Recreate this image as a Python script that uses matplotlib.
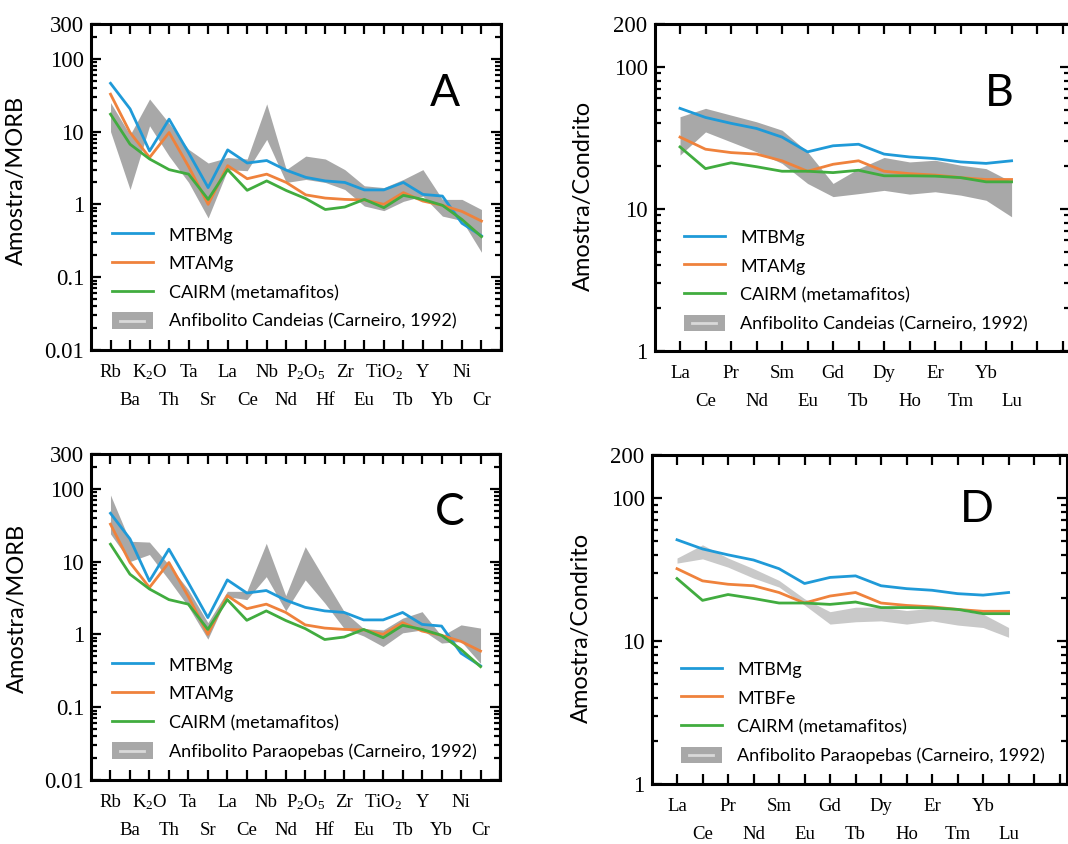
import numpy as np
import matplotlib.pyplot as plt
import matplotlib.transforms as mtransforms
from matplotlib.lines import Line2D
from matplotlib.patches import Patch, Rectangle
from matplotlib.legend_handler import HandlerBase
from matplotlib.ticker import LogLocator, NullFormatter

plt.rcParams['mathtext.fontset'] = 'custom'
plt.rcParams['mathtext.rm'] = 'Liberation Serif'
plt.rcParams['mathtext.it'] = 'Liberation Serif:italic'
plt.rcParams['mathtext.bf'] = 'Liberation Serif:bold'

SERIF = 'Liberation Serif'
SANS = 'Lato'

# spider diagram, normalised to MORB (panels A and C)
spider_elements = ["Rb", "Ba", "K$_2$O", "Th", "Ta", "Sr", "La", "Ce", "Nb", "Nd",
                   "P$_2$O$_5$", "Hf", "Zr", "Eu", "TiO$_2$", "Tb", "Y", "Yb", "Ni", "Cr"]
mtbmg_morb = [46, 20.5, 5.4, 14.8, 5.1, 1.7, 5.6, 3.7, 4.0, 2.95,
              2.35, 2.1, 2.0, 1.58, 1.58, 2.0, 1.37, 1.3, 0.55, 0.37]
mtamg_morb = [32.6, 9.7, 4.4, 9.7, 3.3, 1.0, 3.4, 2.25, 2.6, 2.0,
              1.35, 1.22, 1.17, 1.15, 1.0, 1.45, 1.11, 0.97, 0.8, 0.59]
cairm_morb = [17.3, 6.7, 4.2, 3.0, 2.6, 1.17, 3.0, 1.56, 2.1, 1.55,
              1.2, 0.85, 0.92, 1.17, 0.9, 1.33, 1.17, 0.97, 0.62, 0.36]

# Anfibolito Candeias band (A)
candeias_hi = [25, 9, 28, 13, 5.7, 3.7, 4.4, 4.2, 24, 3.0,
               4.6, 4.2, 3.0, 1.8, 1.7, 2.2, 3.0, 1.17, 1.17, 0.85]
candeias_lo = [10, 1.6, 12, 4.6, 2.0, 0.65, 3.0, 2.9, 7.8, 2.0,
               2.2, 2.0, 1.6, 0.95, 0.82, 1.1, 1.3, 0.69, 0.6, 0.22]

# Anfibolito Paraopebas band (C)
paraopebas_hi = [82, 19, 18.5, 9.0, 4.1, 1.45, 3.9, 3.9, 17.8, 3.4,
                 16, 5.7, 2.05, 1.2, 1.15, 1.67, 2.05, 0.95, 1.35, 1.22]
paraopebas_lo = [24, 10, 12.5, 5.6, 2.4, 0.86, 3.3, 3.0, 6.2, 2.1,
                 5.6, 2.7, 1.2, 0.95, 0.68, 1.05, 1.15, 0.76, 0.8, 0.40]

# REE, normalised to chondrite (panels B and D)
ree_elements = ["La", "Ce", "Pr", "Nd", "Sm", "Eu", "Gd", "Tb", "Dy", "Ho", "Er", "Tm", "Yb", "Lu"]
mtbmg_ree = [51, 44, 40, 36.8, 32, 25.2, 27.8, 28.5, 24.3, 23.2, 22.6, 21.4, 20.9, 21.8]
mtamg_ree = [32, 26.3, 24.9, 24.3, 21.8, 18.4, 20.6, 21.8, 18.4, 17.7, 17.3, 16.6, 16.1, 16.1]
cairm_ree = [27.3, 19.2, 21.1, 19.8, 18.4, 18.4, 18.0, 18.7, 17.1, 17.1, 17.0, 16.6, 15.5, 15.5]

candeias_ree_hi = [44.5, 51, 45.7, 41, 35.8, 25.2, 15.1, 19.2, 23, 21.4, 22, 20.3, 19.2, 15.5]
candeias_ree_lo = [23.9, 34.8, 29.6, 25.2, 20.9, 15.1, 12.2, 12.8, 13.5, 12.7, 13.2, 12.5, 11.5, 8.8]

paraopebas_ree_hi = [38, 47, 38, 32, 26.5, 19.7, 16.0, 17.2, 17.2, 16.3, 16.9, 16.3, 15.4, 12.4]
paraopebas_ree_lo = [35, 37.5, 32.8, 27.5, 23.8, 17.8, 13.1, 13.6, 13.8, 13.1, 13.8, 12.9, 12.4, 10.6]

blue, orange, green = '#1f9ad8', '#ef823c', '#41ac3f'
band_dark, band_light = '#a8a8a8', '#c9c9c9'

fig = plt.figure(figsize=(10.68, 8.44), dpi=100)
W, H = 1068, 844


class BandHandler(HandlerBase):
    # grey box with a pale stroke in the middle, like the original legend key
    def create_artists(self, legend, orig_handle, xdescent, ydescent, width, height,
                       fontsize, trans):
        rect = Rectangle((-xdescent, -ydescent), width, height, facecolor=band_dark,
                         edgecolor='none', transform=trans)
        y = -ydescent + height / 2
        line = Line2D([-xdescent + 0.2 * width, -xdescent + 0.78 * width], [y, y],
                      color='#d9d9d9', lw=2, transform=trans)
        return [rect, line]


def panel(px, names, xmax, ylim, yticks, lo, hi, band_color, series, labels,
          letter, letter_xy, ylabel, ylabel_xy, leg_xy):
    left, top, right, bottom = px
    ax = fig.add_axes([left / W, 1 - bottom / H, (right - left) / W, (bottom - top) / H])
    x = np.arange(len(names))
    ax.fill_between(x, lo, hi, color=band_color, lw=0)
    for vals, col in zip(series, [blue, orange, green]):
        ax.plot(x, vals, color=col, lw=2)

    ax.set_yscale('log')
    ax.set_ylim(*ylim)
    ax.set_xlim(-1, xmax)
    ax.set_yticks(yticks)
    ax.set_yticklabels([f"{t:g}" for t in yticks], fontfamily=SERIF, fontsize=16.5)
    ax.yaxis.set_minor_locator(LogLocator(base=10, subs=np.arange(2, 10)))
    ax.yaxis.set_minor_formatter(NullFormatter())
    ax.set_xticks(np.arange(0, int(xmax) + 1))
    ax.set_xticklabels([])
    ax.tick_params(which='both', direction='in', top=True, right=True, width=1.6, pad=5)
    ax.tick_params(which='major', length=7)
    ax.tick_params(which='minor', length=4)
    for s in ax.spines.values():
        s.set_linewidth(2.2)

    # element names in two staggered rows
    for i, name in enumerate(names):
        off = mtransforms.offset_copy(ax.get_xaxis_transform(), fig=fig,
                                      y=-27 if i % 2 == 0 else -55, units='dots')
        ax.text(i, 0, name, transform=off, ha='center', va='baseline',
                fontfamily=SERIF, fontsize=13.5)

    ax.set_ylabel(ylabel, fontfamily=SANS, fontsize=17)
    ax.yaxis.set_label_coords(*ylabel_xy)
    ax.text(*letter_xy, letter, transform=ax.transAxes, ha='center', va='center',
            fontfamily=SANS, fontsize=32)

    band_key = Patch()
    handles = [Line2D([], [], color=c, lw=2) for c in (blue, orange, green)] + [band_key]
    ax.legend(handles, labels, loc='upper left', bbox_to_anchor=leg_xy, frameon=False,
              prop={'family': SANS, 'size': 13}, handlelength=2.3, handletextpad=0.85,
              labelspacing=0.62, borderpad=0, borderaxespad=0, handleheight=1.05,
              handler_map={band_key: BandHandler()})
    return ax


spider_ticks = [0.01, 0.1, 1, 10, 100, 300]
ree_ticks = [1, 10, 100, 200]

panel((91, 24, 501, 350), spider_elements, 20, (0.01, 300), spider_ticks,
      candeias_lo, candeias_hi, band_dark, [mtbmg_morb, mtamg_morb, cairm_morb],
      ["MTBMg", "MTAMg", "CAIRM (metamafitos)", "Anfibolito Candeias (Carneiro, 1992)"],
      "A", (0.863, 0.788), "Amostra/MORB", (-0.156, 0.52), (0.051, 0.38))

panel((654.5, 24, 1070, 351), ree_elements, 15.29, (1, 200), ree_ticks,
      candeias_ree_lo, candeias_ree_hi, band_dark, [mtbmg_ree, mtamg_ree, cairm_ree],
      ["MTBMg", "MTAMg", "CAIRM (metamafitos)", "Anfibolito Candeias (Carneiro, 1992)"],
      "B", (0.831, 0.788), "Amostra/Condrito", (-0.146, 0.474), (0.07, 0.375))

panel((91, 454, 500, 780), spider_elements, 20, (0.01, 300), spider_ticks,
      paraopebas_lo, paraopebas_hi, band_dark, [mtbmg_morb, mtamg_morb, cairm_morb],
      ["MTBMg", "MTAMg", "CAIRM (metamafitos)", "Anfibolito Paraopebas (Carneiro, 1992)"],
      "C", (0.878, 0.822), "Amostra/MORB", (-0.154, 0.525), (0.051, 0.38))

panel((651.5, 455, 1067, 783.7), ree_elements, 15.29, (1, 200), ree_ticks,
      paraopebas_ree_lo, paraopebas_ree_hi, band_light, [mtbmg_ree, mtamg_ree, cairm_ree],
      ["MTBMg", "MTBFe", "CAIRM (metamafitos)", "Anfibolito Paraopebas (Carneiro, 1992)"],
      "D", (0.783, 0.833), "Amostra/Condrito", (-0.143, 0.474), (0.07, 0.375))

fig.savefig("out.png", dpi=100)
